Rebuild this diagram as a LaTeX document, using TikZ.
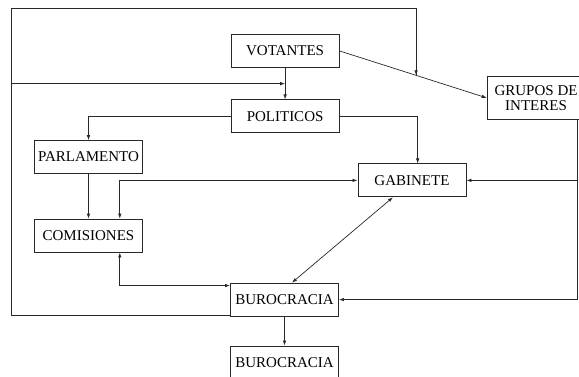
\documentclass[tikz,border=0pt]{standalone}
\usepackage{fontspec}
\setmainfont{Liberation Serif}
\usepackage{tikz}
\usetikzlibrary{arrows.meta,positioning,calc}
\definecolor{LineGray}{RGB}{40, 40, 40}

\begin{document}
\begin{tikzpicture}[
      every node/.style={font=\fontsize{15}{14.5}\selectfont, align=center},
      box/.style={rectangle, draw=LineGray, line width=0.8pt, minimum width=3.8cm, minimum height=1.16cm, inner sep=0pt},
      link/.style={->, >={Latex[length=5pt,width=3.5pt]}, line width=0.7pt, color=LineGray},
      twoway/.style={<->, >={Latex[length=5pt,width=3.5pt]}, line width=0.7pt, color=LineGray},
      loop/.style={line width=0.8pt, color=LineGray}
    ]
      \useasboundingbox (0,0) rectangle (20.35,-13.25);

      % Top
      \node[box] (vot) at (10.02, -1.79) {VOTANTES};
      \node[box] (pol) at (10.02, -4.09) {POLITICOS};
      \node[box, minimum width=3.44cm, minimum height=1.48cm] (gru) at (18.84, -3.44) {GRUPOS DE\\INTERES};

      % Middle
      \node[box] (par) at (3.11, -5.52) {PARLAMENTO};
      \node[box] (com) at (3.11, -8.28) {COMISIONES};
      \node[box] (gab) at (14.48, -6.34) {GABINETE};

      % Bottom
      \node[box] (bur) at (10.00, -10.53) {BUROCRACIA};
      \node[box] (bur2) at (10.00, -12.74) {BUROCRACIA};

      % Helper points
      \coordinate (fb) at ($(vot.south)!0.5!(pol.north)$);
      \coordinate (gi) at ($(vot.east)!0.52!(gru.west)$);
      \coordinate (tl) at (0.39, -0.28);

      % Connectors
      \draw[link] (vot) -- (pol);
      \draw[link] (vot.east) -- (gru.west);
      \draw[link] (pol.east) -| ([xshift=0.2cm]gab.north);
      \draw[link] (pol.west) -| (par.north);
      \draw[link] (par) -- (com);
      \draw[twoway] (gab.west) -| ([xshift=1.1cm]com.north);
      \draw[twoway] ([xshift=1.1cm]com.south) |- ([yshift=-0.1cm]bur.north west);
      \draw[twoway] ([xshift=-0.67cm]gab.south) -- ([xshift=0.26cm]bur.north);
      \draw[link] ([xshift=1.44cm]gru.south) |- (gab.east);
      \draw[link] ([xshift=1.44cm]gru.south) |- (bur.east);
      \draw[link] (bur) -- (bur2);

      % Feedback loop
      \draw[loop] ([yshift=0.03cm]bur.south west) -| (tl) -| (gi);
      \draw[link] (gi |- tl) -- (gi);
      \draw[link] (fb -| tl) -- (fb);
    \end{tikzpicture}
\end{document}
